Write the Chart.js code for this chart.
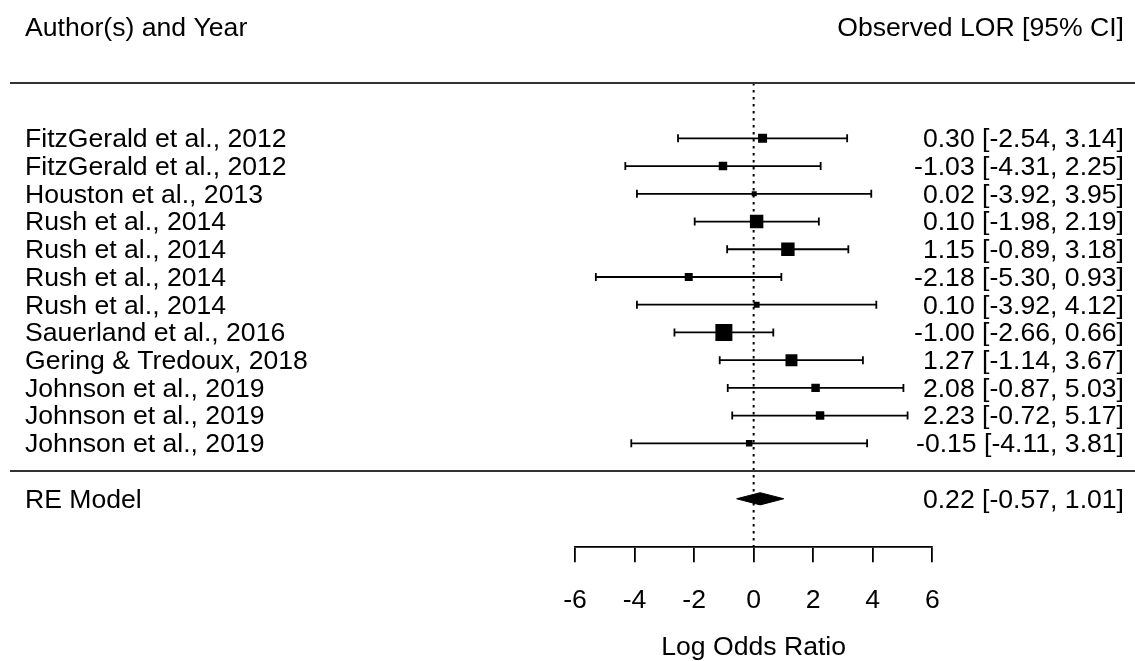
<!DOCTYPE html>
<html>
<head>
<meta charset="utf-8">
<title>Forest plot</title>
<script src="https://cdn.jsdelivr.net/npm/chart.js@4.4.0/dist/chart.umd.min.js"></script>
<style>
  html, body { margin: 0; padding: 0; background: #fff; }
  canvas { display: block; }
</style>
</head>
<body>
<canvas id="forest" width="1135" height="661"></canvas>
<script>
// study rows, top to bottom
const studies = [
  'FitzGerald et al., 2012',
  'FitzGerald et al., 2012',
  'Houston et al., 2013',
  'Rush et al., 2014',
  'Rush et al., 2014',
  'Rush et al., 2014',
  'Rush et al., 2014',
  'Sauerland et al., 2016',
  'Gering & Tredoux, 2018',
  'Johnson et al., 2019',
  'Johnson et al., 2019',
  'Johnson et al., 2019'
];
const estimates = [0.30, -1.03, 0.02, 0.10, 1.15, -2.18, 0.10, -1.00, 1.27, 2.08, 2.23, -0.15];
const ciLower   = [-2.54, -4.31, -3.92, -1.98, -0.89, -5.30, -3.92, -2.66, -1.14, -0.87, -0.72, -4.11];
const ciUpper   = [3.14, 2.25, 3.95, 2.19, 3.18, 0.93, 4.12, 0.66, 3.67, 5.03, 5.17, 3.81];
const weights   = [7.6, 7.0, 3.0, 12.7, 12.7, 6.4, 4.1, 16.8, 11.0, 7.0, 7.0, 4.7]; // %

const reLabel = 'RE Model';
const reEstimate = 0.22;
const reLower = -0.57;
const reUpper = 1.01;

const xTicks = [-6, -4, -2, 0, 2, 4, 6];
const xTitle = 'Log Odds Ratio';
const headLeft = 'Author(s) and Year';
const headRight = 'Observed LOR [95% CI]';

const FONT = "'Liberation Sans', Arial, sans-serif";
const k = studies.length;
const reRow = k + 2;
const axisRow = 15.75;
const fmt = v => v.toFixed(2);

// square side grows linearly with weight (5px .. 17px)
const wMin = Math.min(...weights), wMax = Math.max(...weights);
const sideOf = w => 5 + 12 * (w - wMin) / (wMax - wMin);

const ciData = [];
studies.forEach((s, i) => {
  ciData.push({ x: ciLower[i], y: i + 1 }, { x: ciUpper[i], y: i + 1 }, { x: NaN, y: NaN });
});

const dh = 0.22;
const diamond = [
  { x: reLower, y: reRow }, { x: reEstimate, y: reRow - dh },
  { x: reUpper, y: reRow }, { x: reEstimate, y: reRow + dh },
  { x: reLower, y: reRow }
];

const forestText = {
  id: 'forestText',
  beforeDraw(chart) {
    const c = chart.ctx;
    c.save();
    c.fillStyle = '#fff';
    c.fillRect(0, 0, chart.width, chart.height);
    c.restore();
  },
  afterDatasetsDraw(chart) {
    const c = chart.ctx;
    const y = chart.scales.y;
    c.save();
    // header and footer rules
    c.strokeStyle = '#333';
    c.lineWidth = 2;
    [-1, k + 1].forEach(r => {
      const py = Math.round(y.getPixelForValue(r));
      c.beginPath();
      c.moveTo(10, py);
      c.lineTo(chart.width, py);
      c.stroke();
    });

    c.fillStyle = '#000';
    c.font = '26.6px ' + FONT;
    c.textBaseline = 'middle';
    const put = (txt, x, r, align) => {
      c.textAlign = align;
      c.fillText(txt, x, y.getPixelForValue(r) + 1.5);
    };
    put(headLeft, 25, -3, 'left');
    put(headRight, 1124, -3, 'right');
    studies.forEach((s, i) => {
      put(s, 25, i + 1, 'left');
      put(fmt(estimates[i]) + ' [' + fmt(ciLower[i]) + ', ' + fmt(ciUpper[i]) + ']', 1124, i + 1, 'right');
    });
    put(reLabel, 25, reRow, 'left');
    put(fmt(reEstimate) + ' [' + fmt(reLower) + ', ' + fmt(reUpper) + ']', 1124, reRow, 'right');
    c.restore();
  }
};

new Chart(document.getElementById('forest'), {
  type: 'scatter',
  data: {
    datasets: [
      {
        // reference line at 0
        data: [{ x: 0, y: -1 }, { x: 0, y: axisRow }],
        showLine: true,
        borderColor: '#000',
        borderWidth: 2,
        borderDash: [2.5, 4.5],
        pointRadius: 0
      },
      {
        data: ciData,
        showLine: true,
        spanGaps: false,
        borderColor: '#000',
        borderWidth: 1.8,
        pointStyle: 'line',
        pointRotation: 90,
        pointRadius: 4,
        pointBorderWidth: 1.8,
        pointBorderColor: '#000'
      },
      {
        data: estimates.map((v, i) => ({ x: v, y: i + 1 })),
        pointStyle: 'rect',
        pointRadius: weights.map(w => sideOf(w) / Math.SQRT2),
        backgroundColor: '#000',
        borderColor: '#000',
        borderWidth: 0
      },
      {
        data: diamond,
        showLine: true,
        fill: 'shape',
        tension: 0,
        borderColor: '#000',
        backgroundColor: '#000',
        borderWidth: 1,
        pointRadius: 0
      }
    ]
  },
  options: {
    responsive: false,
    devicePixelRatio: 1,
    animation: false,
    events: [],
    layout: { autoPadding: false, padding: { left: 575, right: 202.7, top: 0, bottom: 0 } },
    plugins: { legend: { display: false }, tooltip: { enabled: false } },
    elements: { line: { clip: false } },
    scales: {
      x: {
        type: 'linear',
        min: xTicks[0],
        max: xTicks[xTicks.length - 1],
        afterBuildTicks: s => { s.ticks = xTicks.map(v => ({ value: v })); },
        afterFit: s => { s.height = 113.7; },
        ticks: {
          color: '#000',
          font: { family: FONT, size: 26.6, lineHeight: 1 },
          padding: 25,
          maxRotation: 0,
          autoSkip: false
        },
        grid: { drawOnChartArea: false, drawTicks: true, tickLength: 15, color: '#000', lineWidth: 1.8 },
        border: { display: true, color: '#000', width: 1.8 },
        title: {
          display: true,
          text: xTitle,
          color: '#000',
          font: { family: FONT, size: 26.6, lineHeight: 1 },
          padding: { top: 0, bottom: 0 }
        }
      },
      y: {
        type: 'linear',
        display: false,
        reverse: true,
        min: -3.99,
        max: axisRow
      }
    }
  },
  plugins: [forestText]
});
</script>
</body>
</html>
